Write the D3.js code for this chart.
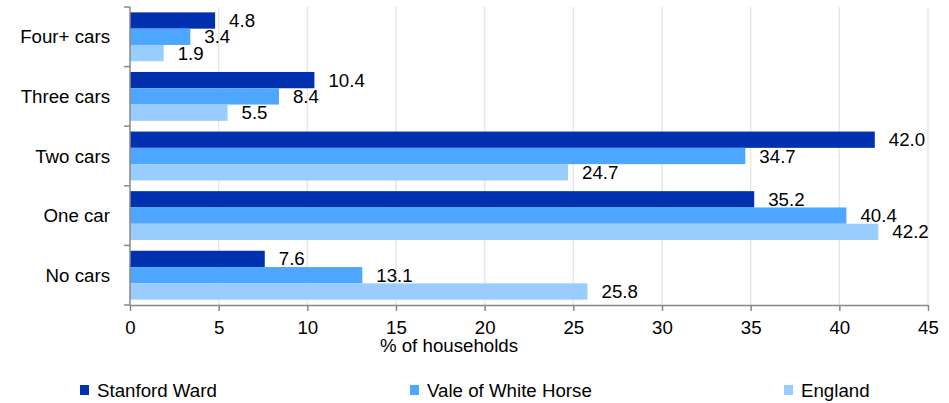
<!DOCTYPE html>
<html><head><meta charset="utf-8">
<script src="https://cdn.jsdelivr.net/npm/d3@7"></script>
<style>body{margin:0;background:#fff}svg{display:block;font-family:"Liberation Sans",Arial,sans-serif}</style>
</head><body><svg id="c" width="949" height="403"></svg>
<script>
const categories = ["Four+ cars","Three cars","Two cars","One car","No cars"];
const seriesNames = ["Stanford Ward","Vale of White Horse","England"];
const stanford = [4.8,10.4,42.0,35.2,7.6];
const vale = [3.4,8.4,34.7,40.4,13.1];
const england = [1.9,5.5,24.7,42.2,25.8];
const xTicks = [0,5,10,15,20,25,30,35,40,45];
const colors = ["#0131b1","#4da6ff","#99ccff"];
const series = [stanford, vale, england];

const svg = d3.select("#c");
const x = d3.scaleLinear().domain([0,45]).range([130,928]);
const y = d3.scaleBand().domain(categories).range([7,305]).paddingInner(0.18).paddingOuter(0.09);
const y1 = d3.scaleBand().domain(seriesNames).range([0,y.bandwidth()]);
const fs = 18.7;

// gridlines
svg.append("g").selectAll("line").data(xTicks.slice(1)).join("line")
  .attr("x1",d=>x(d)).attr("x2",d=>x(d)).attr("y1",7).attr("y2",305)
  .attr("stroke","#e6e6e6").attr("stroke-width",1.5);

// bars
const g = svg.append("g");
series.forEach((vals,si)=>{
  g.append("g").selectAll("rect").data(categories).join("rect")
    .attr("x",x(0)).attr("y",(c)=>y(c)+y1(seriesNames[si]))
    .attr("width",(c,i)=>x(vals[i])-x(0)).attr("height",y1.bandwidth())
    .attr("fill",colors[si]);
  g.append("g").selectAll("text").data(categories).join("text")
    .attr("x",(c,i)=>x(vals[i])+14).attr("y",(c)=>y(c)+y1(seriesNames[si])+y1.bandwidth()/2)
    .attr("dy","0.35em").attr("font-size",fs).attr("fill","#000")
    .text((c,i)=>vals[i].toFixed(1));
});

// y axis
const bounds = d3.range(categories.length+1).map(i=>7+i*(298/categories.length));
svg.append("line").attr("x1",130).attr("x2",130).attr("y1",7).attr("y2",305).attr("stroke","#888").attr("stroke-width",1.5);
svg.append("g").selectAll("line").data(bounds).join("line")
  .attr("x1",124).attr("x2",130).attr("y1",d=>d).attr("y2",d=>d).attr("stroke","#888").attr("stroke-width",1.5);
svg.append("g").selectAll("text").data(categories).join("text")
  .attr("x",110).attr("y",c=>y(c)+y.bandwidth()/2).attr("dy","0.35em")
  .attr("text-anchor","end").attr("font-size",fs).attr("fill","#000").text(c=>c);

// x axis
const xa = svg.append("g").attr("transform","translate(0,305)")
  .call(d3.axisBottom(x).tickValues(xTicks).tickSize(6).tickPadding(10).tickSizeOuter(0));
xa.select(".domain").attr("stroke","#888").attr("stroke-width",1.5);
xa.selectAll(".tick line").attr("stroke","#888").attr("stroke-width",1.5);
xa.selectAll(".tick text").attr("font-size",fs).attr("fill","#000").attr("font-family","Liberation Sans, Arial, sans-serif");

svg.append("text").attr("x",449).attr("y",351.5).attr("text-anchor","middle")
  .attr("font-size",fs).attr("fill","#000").text("% of households");

// legend
const lx = [80,410,784];
seriesNames.forEach((n,i)=>{
  svg.append("rect").attr("x",lx[i]).attr("y",385).attr("width",9).attr("height",10).attr("fill",colors[i]);
  svg.append("text").attr("x",lx[i]+17).attr("y",390).attr("dy","0.35em").attr("font-size",fs).attr("fill","#000").text(n);
});
</script></body></html>
